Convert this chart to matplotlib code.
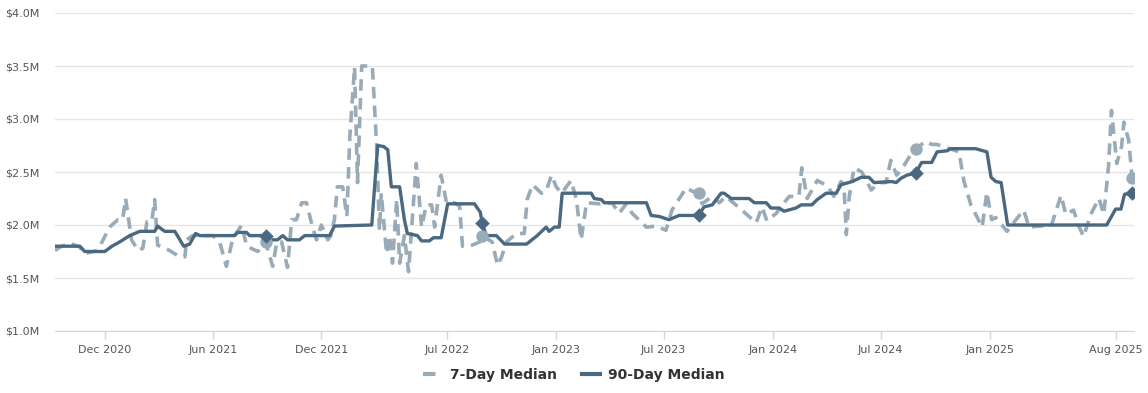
import matplotlib
matplotlib.use("Agg")
import matplotlib.pyplot as plt
import matplotlib.dates as mdates
from matplotlib.ticker import FuncFormatter
import pandas as pd

# 90-day median (vertices), values in $M
dates_90 = ["2020-09-08", "2020-10-20", "2020-10-28", "2020-12-01", "2020-12-13", "2020-12-26",
            "2021-01-12", "2021-01-29", "2021-02-23", "2021-02-28", "2021-03-12", "2021-03-29",
            "2021-04-13", "2021-04-23", "2021-05-03", "2021-05-10", "2021-07-08", "2021-07-13",
            "2021-07-28", "2021-08-02", "2021-08-29", "2021-09-08", "2021-09-18", "2021-09-27",
            "2021-10-05", "2021-10-25", "2021-11-03", "2021-12-15", "2021-12-23", "2022-02-24",
            "2022-03-06", "2022-03-16", "2022-03-23", "2022-03-29", "2022-04-12", "2022-04-20",
            "2022-04-25", "2022-05-12", "2022-05-19", "2022-06-01", "2022-06-08", "2022-06-21",
            "2022-07-02", "2022-08-16", "2022-08-26", "2022-08-29", "2022-09-05", "2022-09-22",
            "2022-10-06", "2022-11-12", "2022-11-30", "2022-12-15", "2022-12-20", "2022-12-29",
            "2023-01-06", "2023-01-11", "2023-03-01", "2023-03-06", "2023-03-18", "2023-03-23",
            "2023-06-02", "2023-06-10", "2023-06-24", "2023-07-10", "2023-07-27", "2023-08-29",
            "2023-09-07", "2023-09-21", "2023-10-06", "2023-10-11", "2023-10-23", "2023-11-22",
            "2023-12-01", "2023-12-21", "2023-12-29", "2024-01-12", "2024-01-20", "2024-02-09",
            "2024-02-18", "2024-03-07", "2024-03-16", "2024-03-31", "2024-04-17", "2024-04-25",
            "2024-05-14", "2024-05-29", "2024-06-11", "2024-06-20", "2024-07-20", "2024-07-27",
            "2024-08-04", "2024-08-14", "2024-08-29", "2024-09-03", "2024-09-08", "2024-09-25",
            "2024-10-04", "2024-10-21", "2024-10-27", "2024-12-08", "2024-12-27", "2025-01-03",
            "2025-01-11", "2025-01-20", "2025-01-31", "2025-06-25", "2025-07-17", "2025-08-01",
            "2025-08-10", "2025-08-16", "2025-08-29"]
vals_90 = [1.80, 1.80, 1.75, 1.75, 1.80, 1.84,
           1.90, 1.94, 1.94, 1.99, 1.94, 1.94,
           1.80, 1.82, 1.92, 1.90, 1.90, 1.93,
           1.93, 1.90, 1.90, 1.86, 1.86, 1.90,
           1.86, 1.86, 1.90, 1.90, 1.99, 2.00,
           2.75, 2.74, 2.71, 2.36, 2.36, 2.05,
           1.92, 1.90, 1.85, 1.85, 1.88, 1.88,
           2.20, 2.20, 2.12, 2.02, 1.90, 1.90,
           1.82, 1.82, 1.90, 1.98, 1.94, 1.98,
           1.98, 2.30, 2.30, 2.25, 2.24, 2.21,
           2.21, 2.09, 2.08, 2.05, 2.09, 2.09,
           2.17, 2.19, 2.30, 2.30, 2.25, 2.25,
           2.21, 2.21, 2.16, 2.16, 2.13, 2.16,
           2.19, 2.19, 2.24, 2.30, 2.30, 2.38,
           2.41, 2.45, 2.45, 2.40, 2.41, 2.40,
           2.44, 2.47, 2.49, 2.54, 2.59, 2.59,
           2.69, 2.70, 2.72, 2.72, 2.69, 2.45,
           2.41, 2.40, 2.00, 2.00, 2.00, 2.15,
           2.15, 2.29, 2.30]

# 7-day median, values in $M
dates_7 = ["2020-09-08", "2020-09-16", "2020-10-03", "2020-10-20", "2020-10-28", "2020-11-19",
           "2020-12-09", "2020-12-23", "2020-12-31", "2021-01-05", "2021-01-15", "2021-01-26",
           "2021-02-03", "2021-02-10", "2021-02-18", "2021-02-23", "2021-02-28", "2021-03-20",
           "2021-04-06", "2021-04-15", "2021-04-18", "2021-04-28", "2021-05-10", "2021-06-01",
           "2021-06-13", "2021-06-24", "2021-07-05", "2021-07-20", "2021-07-28", "2021-08-16",
           "2021-08-29", "2021-09-10", "2021-09-17", "2021-09-25", "2021-10-05", "2021-10-12",
           "2021-10-20", "2021-10-29", "2021-11-06", "2021-11-16", "2021-11-23", "2021-12-01",
           "2021-12-12", "2021-12-17", "2021-12-23", "2021-12-28", "2022-01-06", "2022-01-13",
           "2022-01-18", "2022-01-26", "2022-01-31", "2022-02-07", "2022-02-25", "2022-03-04",
           "2022-03-09", "2022-03-12", "2022-03-21", "2022-03-26", "2022-03-31", "2022-04-07",
           "2022-04-12", "2022-04-20", "2022-04-27", "2022-05-10", "2022-05-19", "2022-05-27",
           "2022-06-05", "2022-06-10", "2022-06-21", "2022-06-30", "2022-07-13", "2022-07-22",
           "2022-07-27", "2022-08-08", "2022-08-25", "2022-08-29", "2022-09-15", "2022-09-24",
           "2022-10-01", "2022-10-09", "2022-10-26", "2022-11-08", "2022-11-13", "2022-11-22",
           "2022-12-07", "2022-12-15", "2022-12-24", "2023-01-01", "2023-01-10", "2023-01-26",
           "2023-02-04", "2023-02-12", "2023-02-21", "2023-03-15", "2023-04-05", "2023-04-17",
           "2023-04-29", "2023-05-09", "2023-06-02", "2023-06-19", "2023-07-05", "2023-07-15",
           "2023-08-08", "2023-08-18", "2023-08-29", "2023-09-04", "2023-09-21", "2023-10-03",
           "2023-10-14", "2023-11-10", "2023-12-04", "2023-12-14", "2023-12-22", "2024-01-07",
           "2024-01-17", "2024-01-29", "2024-02-14", "2024-02-19", "2024-02-28", "2024-03-16",
           "2024-04-02", "2024-04-13", "2024-04-25", "2024-04-30", "2024-05-04", "2024-05-09",
           "2024-05-17", "2024-05-30", "2024-06-15", "2024-06-28", "2024-07-10", "2024-07-18",
           "2024-07-28", "2024-08-09", "2024-08-18", "2024-08-29", "2024-09-15", "2024-09-25",
           "2024-10-04", "2024-11-10", "2024-11-18", "2024-11-30", "2024-12-19", "2024-12-27",
           "2025-01-04", "2025-01-11", "2025-01-30", "2025-02-07", "2025-02-27", "2025-03-08",
           "2025-04-15", "2025-05-01", "2025-05-09", "2025-05-22", "2025-05-31", "2025-06-08",
           "2025-06-20", "2025-07-04", "2025-07-12", "2025-07-20", "2025-07-25", "2025-08-03",
           "2025-08-11", "2025-08-15", "2025-08-23", "2025-08-29"]
vals_7 = [1.76, 1.79, 1.83, 1.79, 1.73, 1.76,
          1.98, 2.05, 2.05, 2.25, 1.86, 1.76,
          1.78, 2.03, 2.03, 2.24, 1.81, 1.76,
          1.70, 1.70, 1.86, 1.90, 1.90, 1.90,
          1.83, 1.61, 1.88, 2.00, 1.80, 1.75,
          1.84, 1.61, 1.84, 1.84, 1.60, 2.05,
          2.05, 2.21, 2.21, 1.98, 1.86, 2.00,
          1.86, 1.90, 2.05, 2.36, 2.36, 2.08,
          2.83, 3.49, 2.40, 3.50, 3.50, 2.77,
          1.95, 2.30, 1.73, 1.90, 1.64, 2.24,
          1.64, 1.90, 1.56, 2.58, 1.98, 2.19,
          2.19, 1.98, 2.47, 2.21, 2.21, 2.18,
          1.80, 1.80, 1.84, 1.90, 1.84, 1.62,
          1.70, 1.84, 1.92, 1.92, 2.24, 2.38,
          2.30, 2.32, 2.47, 2.36, 2.30, 2.42,
          2.24, 1.86, 2.21, 2.20, 2.21, 2.11,
          2.20, 2.11, 1.98, 1.99, 1.95, 2.14,
          2.35, 2.32, 2.30, 2.20, 2.27, 2.21,
          2.27, 2.14, 2.02, 2.17, 2.04, 2.11,
          2.19, 2.27, 2.27, 2.54, 2.25, 2.42,
          2.37, 2.27, 2.41, 2.38, 1.91, 2.27,
          2.54, 2.50, 2.33, 2.40, 2.40, 2.61,
          2.47, 2.56, 2.64, 2.72, 2.79, 2.76,
          2.76, 2.69, 2.42, 2.19, 1.98, 2.31,
          2.05, 2.07, 1.94, 2.00, 2.14, 1.98,
          2.00, 2.28, 2.10, 2.14, 1.99, 1.89,
          2.10, 2.25, 2.10, 2.55, 3.08, 2.58,
          2.74, 2.97, 2.80, 2.44]

# yearly snapshot markers (end of August each year)
mark_dates = ["2021-08-29", "2022-08-29", "2023-08-29", "2024-08-29", "2025-08-29"]

tick_dates = ["2020-12-01", "2021-06-01", "2021-12-01", "2022-07-01", "2023-01-01",
              "2023-07-01", "2024-01-01", "2024-07-01", "2025-01-01", "2025-08-01"]

c7 = "#9aabb8"
c90 = "#4a6880"

d7 = pd.to_datetime(dates_7)
d90 = pd.to_datetime(dates_90)
s7 = pd.Series(vals_7, index=d7)
s90 = pd.Series(vals_90, index=d90)
md = pd.to_datetime(mark_dates)

fig = plt.figure(figsize=(11.48, 3.93), dpi=100)
ax = fig.add_axes([55 / 1148, 62 / 393, (1134 - 55) / 1148, 318 / 393])

ax.plot(d7, vals_7, color=c7, lw=2.6, ls=(0, (3.2, 2.0)), solid_capstyle="butt", zorder=3)
ax.plot(d90, vals_90, color=c90, lw=2.4, zorder=4)
ax.scatter(md, s7[md].values, s=80, color=c7, marker="o", zorder=5, linewidths=0)
ax.scatter(md, s90[md].values, s=55, color=c90, marker="D", zorder=6, linewidths=0)

ax.set_ylim(1.0, 4.0)
ax.set_xlim(pd.Timestamp("2020-09-08"), pd.Timestamp("2025-09-01"))
ax.set_yticks([1.0, 1.5, 2.0, 2.5, 3.0, 3.5, 4.0])
ax.yaxis.set_major_formatter(FuncFormatter(lambda v, p: "${:.1f}M".format(v)))
ax.set_xticks(pd.to_datetime(tick_dates))
ax.xaxis.set_major_formatter(mdates.DateFormatter("%b %Y"))

ax.grid(axis="y", color="#e6e6e6", lw=1)
ax.set_axisbelow(True)
for sp in ["top", "right", "left"]:
    ax.spines[sp].set_visible(False)
ax.spines["bottom"].set_color("#ccd6eb")
ax.tick_params(axis="x", colors="#ccd6eb", length=6, width=1, labelcolor="#555555",
               labelsize=8, pad=4)
ax.tick_params(axis="y", length=0, labelcolor="#555555", labelsize=8, pad=11)

# legend
h1, = ax.plot([], [], color=c7, lw=3, ls=(0, (3, 2)))
h2, = ax.plot([], [], color=c90, lw=3)
leg = fig.legend([h1, h2], ["7-Day Median", "90-Day Median"], loc="center",
                 bbox_to_anchor=(0.5, 18 / 393), ncol=2, frameon=False,
                 prop={"weight": "bold", "size": 10}, handlelength=1.3,
                 columnspacing=1.8, handletextpad=0.6)
for t in leg.get_texts():
    t.set_color("#333333")

fig.savefig("out.png", dpi=100)
